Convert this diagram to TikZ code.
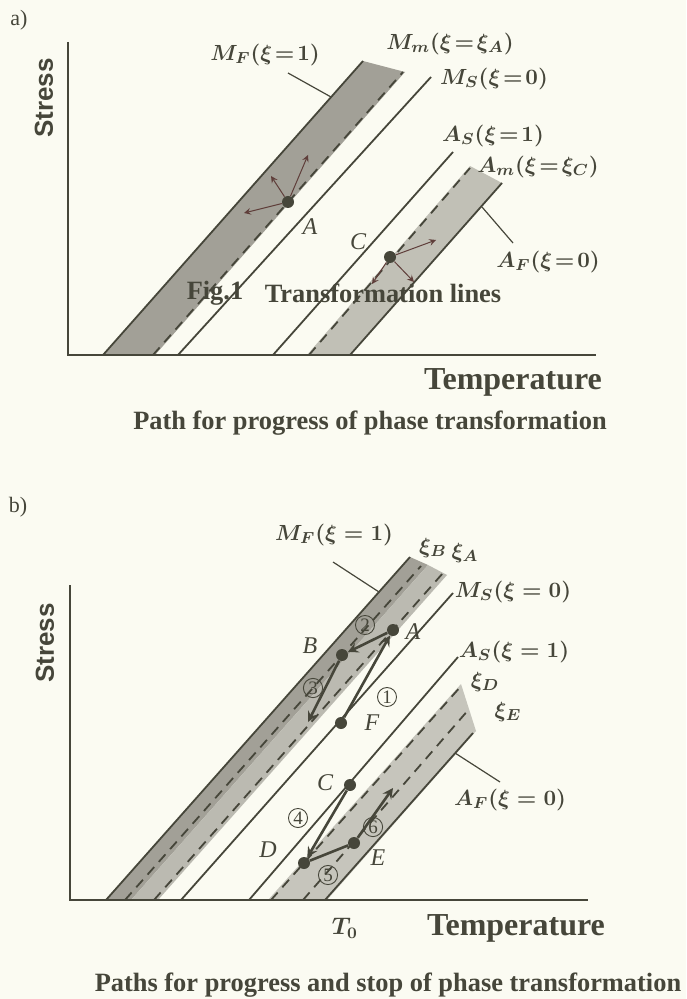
\documentclass[tikz,border=0pt]{standalone}
\usepackage{fontspec}
\setmainfont{Liberation Serif}
\setsansfont{Liberation Sans}
\definecolor{ink}{RGB}{70,70,58}
\definecolor{paper}{RGB}{251,251,242}
\definecolor{banddark}{RGB}{162,160,151}
\definecolor{bandlight}{RGB}{198,197,188}
\definecolor{arrowink}{RGB}{95,62,58}
\tikzset{
  axis/.style={ink,line width=1pt},
  tline/.style={ink,line width=0.9pt},
  dline/.style={ink,line width=0.9pt,dash pattern=on 5pt off 3.5pt},
  pointer/.style={ink,line width=0.6pt},
  lab/.style={ink,inner sep=0pt,font=\boldmath\fontsize{11}{13}\selectfont},
  ptlab/.style={ink,inner sep=0pt,font=\itshape\fontsize{12}{14}\selectfont},
  dotnode/.style={circle,fill=ink,inner sep=0pt,minimum size=6pt},
  thinarrow/.style={arrowink,line width=0.5pt,-stealth},
  patharrow/.style={ink,line width=1.3pt,-stealth},
  pathline/.style={ink,line width=1.3pt},
  numc/.style={circle,draw=ink,text=ink,line width=0.45pt,inner sep=0.6pt,font=\fontsize{9.5}{10}\selectfont},
  bigtxt/.style={ink,inner sep=0pt,font=\bfseries\fontsize{16}{19}\selectfont},
  captxt/.style={ink,inner sep=0pt,font=\bfseries\fontsize{13.2}{16}\selectfont},
  stresstxt/.style={ink,inner sep=0pt,rotate=90,font=\sffamily\bfseries\fontsize{13}{15}\selectfont},
}
\begin{document}
\begin{tikzpicture}[x=0.5pt,y=-0.5pt]
\fill[paper] (0,0) rectangle (686,999);
\useasboundingbox (0,0) rectangle (686,999);

% a)
\node[ink,font=\fontsize{11}{13}\selectfont] at (19,20) (taga) {a)};
\fill[banddark] (103,355) -- (363,61) -- (405,72) -- (155,355) -- cycle;
\fill[bandlight!85!banddark] (307,355) -- (470,166) -- (502,183) -- (350,355) -- cycle;
\draw[tline] (103,355) -- (363,61);
\draw[dline] (153,355) -- (403,72);
\draw[tline] (178,355) -- (431,77);
\draw[tline] (273,355) -- (453,152);
\draw[dline] (309,355) -- (470,168);
\draw[tline] (350,355) -- (502,183);
\draw[axis] (68,42) -- (68,355) -- (596,355);

\node[dotnode] at (288,202) (Aa) {};
\node[dotnode] at (390,257) (Ca) {};
\coordinate (aa1) at (308,155);
\coordinate (aa2) at (244,213);
\coordinate (aa3) at (271,176);
\coordinate (ca1) at (436,240);
\coordinate (ca2) at (414,282);
\coordinate (ca3) at (372,284);
\draw[thinarrow] (Aa) -- (aa1);
\draw[thinarrow] (Aa) -- (aa2);
\draw[thinarrow] (Aa) -- (aa3);
\draw[thinarrow] (Ca) -- (ca1);
\draw[thinarrow] (Ca) -- (ca2);
\draw[thinarrow] (Ca) -- (ca3);

\node[lab] at (265,55) (mfa) {$M_F(\xi\!=\!1)$};
\node[lab] at (450,44) (mma) {$M_m(\xi\!=\!\xi_A)$};
\node[lab] at (494,79) (msa) {$M_S(\xi\!=\!0)$};
\node[lab] at (493,136) (asa) {$A_S(\xi\!=\!1)$};
\node[lab] at (538,167) (ama) {$A_m(\xi\!=\!\xi_C)$};
\node[lab] at (548,262) (afa) {$A_F(\xi\!=\!0)$};
\coordinate (mfa0) at (288,73);
\coordinate (mfa1) at (331,97);
\coordinate (afa0) at (513,243);
\coordinate (afa1) at (482,207);
\draw[pointer] (mfa0) -- (mfa1);
\draw[pointer] (afa0) -- (afa1);
\node[ptlab] at (310,227) (Ala) {A};
\node[ptlab] at (358,242) (Cla) {C};

\node[captxt] at (215,293) (figa) {Fig.1};
\node[captxt] at (383,293) (figb) {Transformation lines};
\node[stresstxt] at (44,98) (stra) {Stress};
\node[bigtxt] at (513,382) (tempa) {Temperature};
\node[captxt] at (370,423) (capa) {Path for progress of phase transformation};

% b)
\node[ink,font=\fontsize{11}{13}\selectfont] at (18,507) (tagb) {b)};
\fill[banddark] (106,900) -- (410,557) -- (428,565) -- (131,900) -- cycle;
\fill[bandlight!70!banddark] (131,900) -- (428,565) -- (447,575) -- (158,900) -- cycle;
\fill[bandlight] (268,900) -- (461,684) -- (476,731) -- (327,900) -- cycle;
\draw[tline] (106,900) -- (410,557);
\draw[dline] (125,900) -- (421,566);
\draw[dline] (154,900) -- (443,573);
\draw[tline] (181,900) -- (453,593);
\draw[tline] (249,900) -- (458,657);
\draw[dline] (271,900) -- (462,685);
\draw[dline] (303,900) -- (470,708);
\draw[tline] (325,900) -- (473,733);
\draw[axis] (70,585) -- (70,900) -- (588,900);

\node[dotnode] at (393,630) (A) {};
\node[dotnode] at (342,655) (B) {};
\node[dotnode] at (341,723) (F) {};
\node[dotnode] at (350,785) (C) {};
\node[dotnode] at (304,863) (D) {};
\node[dotnode] at (354,843) (E) {};
\coordinate (b3) at (308,722);
\coordinate (e6) at (393,788);
\draw[patharrow] (F) -- (A);
\draw[patharrow] (A) -- (B);
\draw[patharrow] (B) -- (b3);
\draw[patharrow] (C) -- (D);
\draw[pathline] (D) -- (E);
\draw[patharrow] (E) -- (e6);

\node[numc] at (387,697) (n1) {1};
\node[numc] at (365,625) (n2) {2};
\node[numc] at (313,688) (n3) {3};
\node[numc] at (298,818) (n4) {4};
\node[numc] at (328,875) (n5) {5};
\node[numc] at (373,827) (n6) {6};

\node[ptlab] at (413,632) (Al) {A};
\node[ptlab] at (310,646) (Bl) {B};
\node[ptlab] at (372,723) (Fl) {F};
\node[ptlab] at (325,783) (Cl) {C};
\node[ptlab] at (268,850) (Dl) {D};
\node[ptlab] at (378,858) (El) {E};

\node[lab] at (334,535) (mfb) {$M_F(\xi=1)$};
\node[lab] at (433,548) (xib) {$\xi_B$};
\node[lab] at (465,553) (xia) {$\xi_A$};
\node[lab] at (513,592) (msb) {$M_S(\xi=0)$};
\node[lab] at (514,652) (asb) {$A_S(\xi=1)$};
\node[lab] at (485,682) (xid) {$\xi_D$};
\node[lab] at (508,712) (xie) {$\xi_E$};
\node[lab] at (510,800) (afb) {$A_F(\xi=0)$};
\coordinate (mfb0) at (333,562);
\coordinate (mfb1) at (379,592);
\coordinate (afb0) at (500,782);
\coordinate (afb1) at (455,753);
\draw[pointer] (mfb0) -- (mfb1);
\draw[pointer] (afb0) -- (afb1);

\node[stresstxt] at (45,643) (strb) {Stress};
\node[lab,font=\boldmath\fontsize{12}{14}\selectfont] at (345,928) (tzero) {$T_0$};
\node[bigtxt] at (516,928) (tempb) {Temperature};
\node[captxt] at (388,985) (capb) {Paths for progress and stop of phase transformation};
\end{tikzpicture}
\end{document}
